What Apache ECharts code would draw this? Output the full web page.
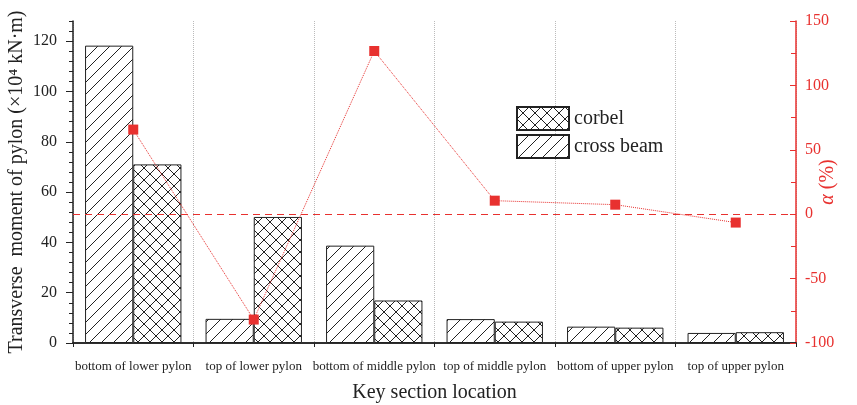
<!DOCTYPE html>
<html>
<head>
<meta charset="utf-8">
<script src="https://cdn.jsdelivr.net/npm/echarts@6/dist/echarts.min.js"></script>
<style>html,body{margin:0;padding:0;background:#fff}#c{width:857px;height:405px}</style>
</head>
<body>
<div id="c"></div>
<script>
const categories = ['bottom of lower pylon', 'top of lower pylon', 'bottom of middle pylon', 'top of middle pylon', 'bottom of upper pylon', 'top of upper pylon'];
const crossBeam = [118.2, 9.6, 38.7, 9.5, 6.5, 4.0];
const corbel = [71.0, 50.1, 16.9, 8.5, 6.1, 4.3];
const alpha = [65.7, -81.8, 126.7, 10.5, 7.4, -6.5];

const FONT = '"Liberation Serif", "Times New Roman", serif';
const RED = '#e8312f';

function makePattern(cross) {
  const s = 12;
  const c = document.createElement('canvas');
  c.width = s; c.height = s;
  const g = c.getContext('2d');
  g.fillStyle = '#fff'; g.fillRect(0, 0, s, s);
  g.strokeStyle = '#222'; g.lineWidth = 1;
  g.beginPath();
  g.moveTo(-2, s + 2); g.lineTo(s + 2, -2);
  g.moveTo(-2, 2); g.lineTo(2, -2);
  g.moveTo(s - 2, s + 2); g.lineTo(s + 2, s - 2);
  if (cross) {
    g.moveTo(-2, -2); g.lineTo(s + 2, s + 2);
    g.moveTo(s - 2, -2); g.lineTo(s + 2, 2);
    g.moveTo(-2, s - 2); g.lineTo(2, s + 2);
  }
  g.stroke();
  return { image: c, repeat: 'repeat' };
}

const chart = echarts.init(document.getElementById('c'), null, { renderer: 'canvas' });
chart.setOption({
  backgroundColor: '#fff',
  animation: false,
  textStyle: { fontFamily: FONT },
  grid: { left: 73, right: 61, top: 21, bottom: 62, containLabel: false, outerBoundsMode: 'none' },
  legend: {
    data: [{ name: 'corbel', icon: 'rect' }, { name: 'cross beam', icon: 'rect' }],
    orient: 'vertical',
    left: 516, top: 106,
    itemWidth: 52, itemHeight: 23, itemGap: 3,
    textStyle: { fontFamily: FONT, fontSize: 20, color: '#222' },
    padding: 0
  },
  xAxis: [{
    type: 'category', data: categories, position: 'bottom',
    axisLine: { lineStyle: { color: '#222', width: 1.5 } },
    axisTick: { show: true, length: 4, inside: false, lineStyle: { color: '#222' } },
    axisLabel: { fontFamily: FONT, fontSize: 13, color: '#222', margin: 17, interval: 0 },
    splitLine: { show: true, lineStyle: { color: '#bbb', type: 'dotted', width: 1 } },
    name: 'Key section location', nameLocation: 'middle', nameGap: 40, nameMoveOverlap: false,
    nameTextStyle: { fontFamily: FONT, fontSize: 20, color: '#222' }
  }, {
    type: 'category', data: categories, position: 'top',
    axisLine: { lineStyle: { color: '#222', width: 1.5 } },
    axisTick: { show: true, length: 4, inside: true, lineStyle: { color: '#222' } },
    axisLabel: { show: false }, splitLine: { show: false }
  }],
  yAxis: [{
    type: 'value', position: 'left', min: 0, max: 128, interval: 20,
    axisLine: { show: true, lineStyle: { color: '#222', width: 1.5 } },
    axisTick: { show: true, length: 7, lineStyle: { color: '#222' } },
    axisLabel: { fontFamily: FONT, fontSize: 16, color: '#222', margin: 16, showMaxLabel: false,
      formatter: v => (v % 20 === 0 ? String(v) : '') },
    splitLine: { show: false },
    name: 'Transverse  moment of pylon (×10⁴ kN·m)', nameLocation: 'middle', nameGap: 46, nameRotate: 90,
    nameMoveOverlap: false,
    nameTextStyle: { fontFamily: FONT, fontSize: 20, color: '#222' }
  }, {
    type: 'value', position: 'left', min: 0, max: 128, interval: 4,
    axisLine: { show: false },
    axisTick: { show: true, length: 4, lineStyle: { color: '#222' } },
    axisLabel: { show: false }, splitLine: { show: false }
  }, {
    type: 'value', position: 'right', min: -100, max: 150, interval: 50,
    axisLine: { show: true, lineStyle: { color: RED, width: 1.5 } },
    axisTick: { show: true, inside: true, length: 6, lineStyle: { color: RED } },
    minorTick: { show: true, splitNumber: 2, length: 5, lineStyle: { color: RED } },
    axisLabel: { fontFamily: FONT, fontSize: 16, color: RED, margin: 9 },
    splitLine: { show: false },
    name: '{a|α} (%)', nameLocation: 'middle', nameGap: 22, nameRotate: 90, nameMoveOverlap: false,
    nameTextStyle: { fontFamily: FONT, fontSize: 20, color: RED,
      rich: { a: { fontFamily: FONT, fontSize: 20, fontStyle: 'italic', color: RED } } }
  }],
  series: [{
    name: 'cross beam', type: 'bar', data: crossBeam, xAxisIndex: 0, yAxisIndex: 0,
    barGap: '0%', barCategoryGap: '20%',
    itemStyle: { color: makePattern(false), borderColor: '#222', borderWidth: 1 }
  }, {
    name: 'corbel', type: 'bar', data: corbel, xAxisIndex: 0, yAxisIndex: 0,
    barGap: '0%', barCategoryGap: '20%',
    itemStyle: { color: makePattern(true), borderColor: '#222', borderWidth: 1 }
  }, {
    name: 'alpha', type: 'line', data: alpha, xAxisIndex: 0, yAxisIndex: 2,
    symbol: 'rect', symbolSize: 10, z: 5,
    lineStyle: { color: RED, width: 1, type: 'dotted' },
    itemStyle: { color: RED },
    markLine: {
      silent: true, symbol: ['none', 'none'], label: { show: false },
      lineStyle: { color: RED, type: [7, 5], width: 1, opacity: 1 },
      emphasis: { disabled: true },
      data: [{ yAxis: 0, lineStyle: { color: RED, type: [7, 5], width: 1 } }]
    }
  }]
});
</script>
</body>
</html>
